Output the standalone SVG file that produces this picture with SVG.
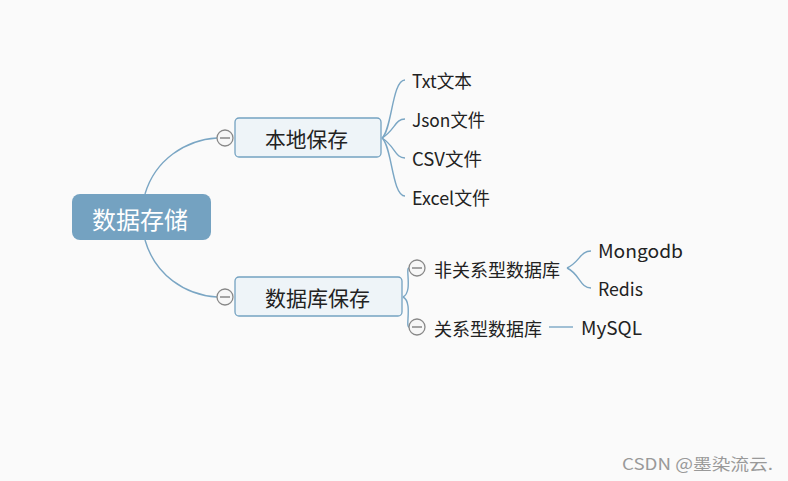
<svg xmlns="http://www.w3.org/2000/svg" width="788" height="481" viewBox="0 0 788 481">
<style>
text{font-family:"Microsoft YaHei","Noto Sans CJK SC","Liberation Sans",sans-serif;fill:#222;dominant-baseline:central}
.sub{fill:#eef4f8;stroke:#74a2c1;stroke-width:1.3}
.ln{fill:none;stroke:#7aa6c4;stroke-width:1.4}
.col{fill:#f7f7f7;stroke:#888;stroke-width:1.3}
.bar{stroke:#777;stroke-width:1.3}
.leaf{font-size:18px}
</style>
<rect width="788" height="481" fill="#fafafa"/>
<g id="connectors">
<path class="ln" d="M145,194 C155,160 185,140 217,138"/>
<path class="ln" d="M145,240 C155,275 185,295 217,297"/>
<path class="ln" d="M382,138 C392,130 392,80 405,80"/>
<path class="ln" d="M382,138 C395,130 395,119 405,119"/>
<path class="ln" d="M382,138 C395,146 395,158 405,158"/>
<path class="ln" d="M382,138 C392,146 392,196 405,196"/>
<path class="ln" d="M403,297 C413,292 405,268 409,268"/>
<path class="ln" d="M403,297 C413,302 405,327 409,327"/>
<path class="ln" d="M567,268 C580,262 580,251 591,251"/>
<path class="ln" d="M567,268 C580,274 580,288 591,288"/>
<path class="ln" d="M549,327 H573"/>
</g>
<g id="root">
<rect x="72" y="194" width="139" height="46" rx="8" fill="#74a2c1"/>
<text x="92" y="218" font-size="24" textLength="96" lengthAdjust="spacingAndGlyphs" style="fill:#fff">数据存储</text>
</g>
<g id="local">
<rect class="sub" x="235" y="118" width="146" height="39" rx="4"/>
<text x="265" y="138" font-size="21" textLength="83" lengthAdjust="spacingAndGlyphs">本地保存</text>
<circle class="col" cx="225" cy="138" r="8"/><path class="bar" d="M220,138H230"/>
</g>
<g id="db">
<rect class="sub" x="235" y="277" width="167" height="39" rx="4"/>
<text x="265" y="297" font-size="21" textLength="105" lengthAdjust="spacingAndGlyphs">数据库保存</text>
<circle class="col" cx="225" cy="297" r="8"/><path class="bar" d="M220,297H230"/>
</g>
<g id="txt"><text class="leaf" x="412" y="80" textLength="60" lengthAdjust="spacingAndGlyphs">Txt文本</text></g>
<g id="json"><text class="leaf" x="412" y="119" textLength="73" lengthAdjust="spacingAndGlyphs">Json文件</text></g>
<g id="csv"><text class="leaf" x="412" y="158" textLength="70" lengthAdjust="spacingAndGlyphs">CSV文件</text></g>
<g id="excel"><text class="leaf" x="412" y="197" textLength="78" lengthAdjust="spacingAndGlyphs">Excel文件</text></g>
<g id="nosql">
<circle class="col" cx="417" cy="268" r="8"/><path class="bar" d="M412,268H422"/>
<text x="434" y="269" font-size="18" textLength="126" lengthAdjust="spacingAndGlyphs">非关系型数据库</text>
</g>
<g id="sql">
<circle class="col" cx="417" cy="327" r="8"/><path class="bar" d="M412,327H422"/>
<text x="434" y="328" font-size="18" textLength="108" lengthAdjust="spacingAndGlyphs">关系型数据库</text>
</g>
<g id="mongodb"><text class="leaf" x="598" y="250" textLength="85" lengthAdjust="spacingAndGlyphs">Mongodb</text></g>
<g id="redis"><text class="leaf" x="598" y="288" textLength="45" lengthAdjust="spacingAndGlyphs">Redis</text></g>
<g id="mysql"><text class="leaf" x="581" y="327" textLength="61" lengthAdjust="spacingAndGlyphs">MySQL</text></g>
<text x="622" y="463" font-size="16" textLength="151" lengthAdjust="spacingAndGlyphs" style="fill:#999">CSDN @墨染流云.</text>
</svg>
